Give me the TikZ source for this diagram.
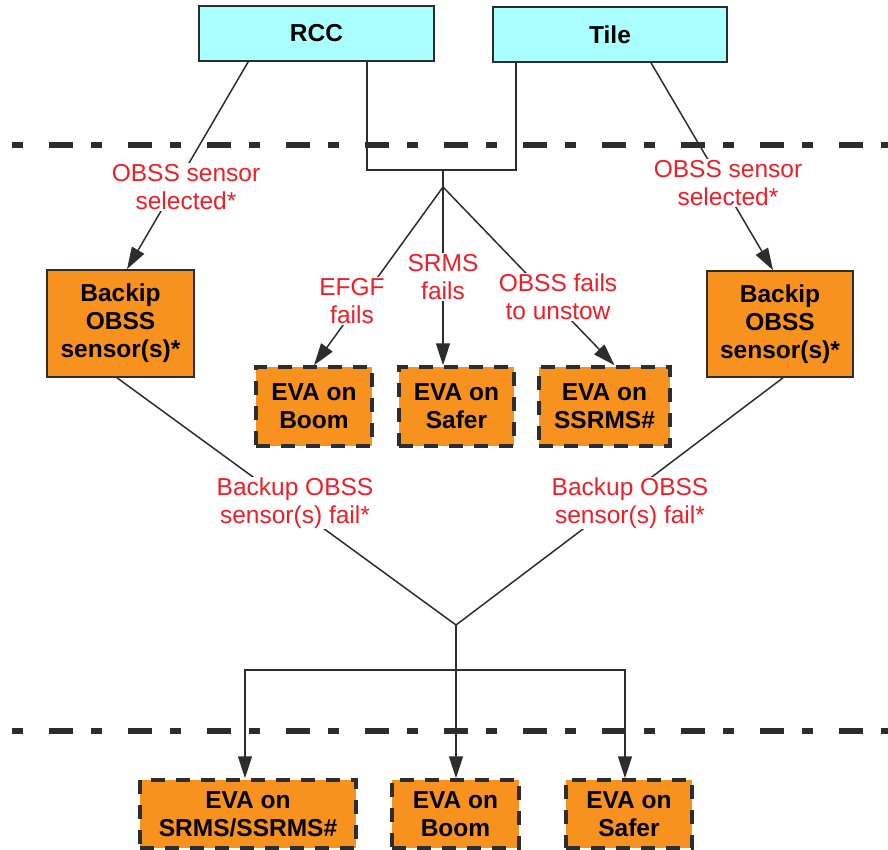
\documentclass[tikz,border=0pt]{standalone}
\usepackage{fontspec}
\setmainfont{Liberation Sans}
\usetikzlibrary{arrows.meta}
\definecolor{cyanfill}{RGB}{170,255,255}
\definecolor{orangefill}{RGB}{248,146,30}
\definecolor{lbl}{RGB}{240,30,40}
\definecolor{ink}{RGB}{45,45,45}
\tikzset{
  box/.style={draw=ink, line width=1.6pt, inner sep=0pt, align=center,
    font=\fontsize{24.5}{28}\selectfont\bfseries, text=black},
  srcbox/.style={box, fill=cyanfill},
  bkbox/.style={box, fill=orangefill},
  evabox/.style={box, fill=orangefill, line width=3.5pt, dash pattern=on 14pt off 11pt},
  elabel/.style={fill=white, inner sep=1pt, align=center, text=lbl,
    font=\fontsize{24.5}{28}\selectfont},
  conn/.style={draw=ink, line width=1.5pt},
  arr/.style={conn, -{Triangle[length=22pt,width=14pt]}},
  sep/.style={draw=ink, line width=5.5pt, dash pattern=on 11pt off 26pt on 24pt off 18pt}
}
\begin{document}
\begin{tikzpicture}[x=1pt,y=-1pt]
\useasboundingbox (0,0) rectangle (888,850);
% separators
\draw[sep] (12,145) -- (888,145);
\draw[sep] (12,731) -- (888,731);
% nodes
\node[srcbox, minimum width=235pt, minimum height=55pt] (rcc) at (316.5,33.5) {RCC};
\node[srcbox, minimum width=234pt, minimum height=55pt] (tile) at (610,34.5) {Tile};
\node[bkbox, minimum width=147pt, minimum height=107pt] (bl) at (120.5,323.5) {Backip\\OBSS\\sensor(s)*};
\node[bkbox, minimum width=146pt, minimum height=106pt] (brk) at (780,324) {Backip\\OBSS\\sensor(s)*};
\node[evabox, minimum width=116pt, minimum height=79pt] (m1) at (314,406.5) {EVA on\\Boom};
\node[evabox, minimum width=115pt, minimum height=79pt] (m2) at (456.5,406.5) {EVA on\\Safer};
\node[evabox, minimum width=131pt, minimum height=79pt] (m3) at (604.5,406.5) {EVA on\\SSRMS\#};
\node[evabox, minimum width=216pt, minimum height=68pt] (b1) at (248,814) {EVA on\\SRMS/SSRMS\#};
\node[evabox, minimum width=127pt, minimum height=68pt] (b2) at (455.5,814) {EVA on\\Boom};
\node[evabox, minimum width=126pt, minimum height=68pt] (b3) at (629,814) {EVA on\\Safer};
% helper coordinates
\coordinate (mtop) at (443,170);
\coordinate (br) at (443,187);
\coordinate (jn) at (456,625);
\coordinate (bar) at (456,670);
% top merge
\draw[conn] ([xshift=50.5pt]rcc.south) |- (mtop);
\draw[conn] ([xshift=-94pt]tile.south) |- (mtop);
\draw[conn] (mtop) -- (br);
% fan out
\draw[arr] (br) -- (m1.north);
\draw[arr] (br) -- (br |- m2.north);
\draw[arr] (br) -- ([xshift=10pt]m3.north);
% sensor selected
\draw[arr] ([xshift=50pt]rcc.south west) -- ([xshift=6.5pt]bl.north);
\draw[arr] ([xshift=41pt]tile.south) -- ([xshift=-7pt]brk.north);
% backup fail
\draw[conn] ([xshift=-3.5pt]bl.south) -- (jn);
\draw[conn] ([xshift=3pt]brk.south) -- (jn);
\draw[conn] (jn) -- (bar);
\draw[arr] (bar) -- (bar |- b2.north);
\draw[arr] (bar) -| ([xshift=-3pt]b1.north);
\draw[arr] (bar) -| ([xshift=-4pt]b3.north);
% labels
\node[elabel] (l1) at (186,187) {OBSS sensor\\selected*};
\node[elabel] (l2) at (728,183) {OBSS sensor\\selected*};
\node[elabel] (l3) at (352,301) {EFGF\\fails};
\node[elabel] (l4) at (443,277) {SRMS\\fails};
\node[elabel] (l5) at (558,297) {OBSS fails\\to unstow};
\node[elabel] (l6) at (295,503) {Backup OBSS\\sensor(s) fail*};
\node[elabel] (l7) at (630,503) {Backup OBSS\\sensor(s) fail*};
\end{tikzpicture}
\end{document}
